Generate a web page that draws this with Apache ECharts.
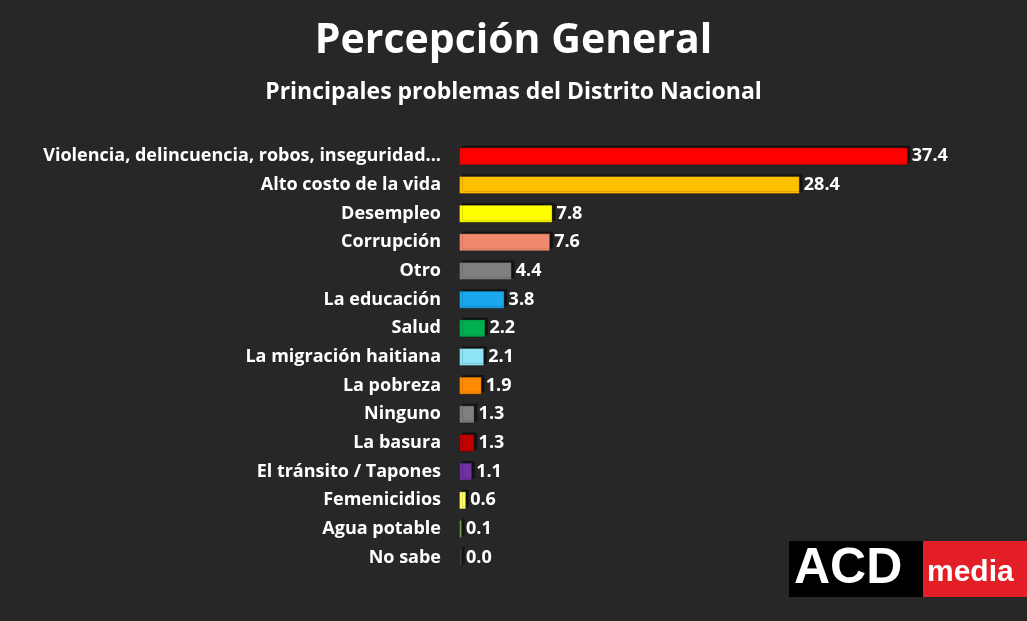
<!DOCTYPE html>
<html><head><meta charset="utf-8">
<script src="https://cdn.jsdelivr.net/npm/echarts@6/dist/echarts.min.js"></script>
<style>html,body{margin:0;padding:0;background:#272727;}#c{width:1027px;height:621px;}</style>
</head><body><div id="c"></div>
<script>
const categories = ["Violencia, delincuencia, robos, inseguridad...","Alto costo de la vida","Desempleo","Corrupción","Otro","La educación","Salud","La migración haitiana","La pobreza","Ninguno","La basura","El tránsito / Tapones","Femenicidios","Agua potable","No sabe"];
const values = [37.4,28.4,7.8,7.6,4.4,3.8,2.2,2.1,1.9,1.3,1.3,1.1,0.6,0.1,0.0];
const colors = ["#ff0000","#ffc000","#ffff00","#f08a6e","#808080","#1aa7ec","#00b050","#8ee3f5","#ff8c00","#7f7f7f","#c00000","#7030a0","#ffff66","#70a050","#404040"];
const chart = echarts.init(document.getElementById('c'));
chart.setOption({
  backgroundColor:'#272727',
  title:[{text:'Percepción General',left:'center',top:16,textStyle:{color:'#fff',fontSize:41,fontWeight:'bold',fontFamily:'Open Sans'}},
         {text:'Principales problemas del Distrito Nacional',left:'center',top:76,textStyle:{color:'#fff',fontSize:23,fontWeight:'bold',fontFamily:'Open Sans'}}],
  grid:{left:459,top:142,width:480,height:430,containLabel:false},
  xAxis:{type:'value',min:0,max:40,show:false},
  yAxis:{type:'category',inverse:true,data:categories,axisLine:{show:false},axisTick:{show:false},
    axisLabel:{color:'#fff',fontSize:18,fontWeight:'bold',fontFamily:'Open Sans',margin:18}},
  series:[{type:'bar',barWidth:18,barMinHeight:3,
    data:values.map((v,i)=>({value:v,itemStyle:{color:colors[i],borderColor:'rgba(0,0,0,0.25)',borderWidth:1,shadowColor:'rgba(0,0,0,0.5)',shadowOffsetX:3,shadowOffsetY:-2,shadowBlur:0}})),
    label:{show:true,position:'right',distance:4,color:'#fff',fontSize:18,fontWeight:'bold',fontFamily:'Open Sans',formatter:p=>p.value.toFixed(1)}}],
  graphic:[
    {type:'rect',shape:{x:789,y:541,width:134,height:56},style:{fill:'#000'}},
    {type:'rect',shape:{x:923,y:541,width:104,height:56},style:{fill:'#e41e26'}},
    {type:'text',x:794,y:569,style:{text:'ACD',fill:'#fff',font:'bold 50px Liberation Sans',textVerticalAlign:'middle'}},
    {type:'text',x:927,y:573,style:{text:'media',fill:'#fff',font:'bold 30px Liberation Sans',textVerticalAlign:'middle'}}
  ]
});
</script></body></html>
